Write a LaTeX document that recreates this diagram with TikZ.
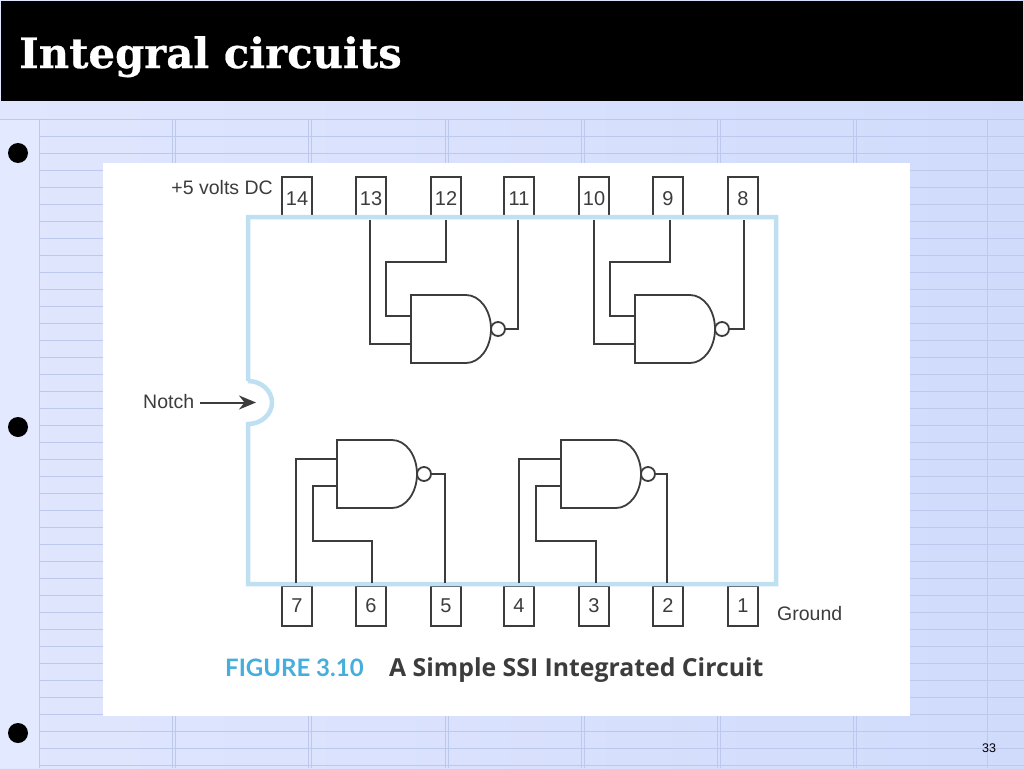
\documentclass[tikz,border=0pt]{standalone}
\usepackage{fontspec}
\setmainfont{Liberation Sans}
\newfontfamily\titlefont[FakeBold=0.6]{DejaVu Serif Bold}
\newfontfamily\capfont{Lato}
\newfontfamily\capboldfont{Open Sans}
\usetikzlibrary{arrows.meta,calc}
\definecolor{ink}{HTML}{3C3C3C}
\definecolor{chipblue}{HTML}{BFE0F2}
\definecolor{capblue}{HTML}{45AEDC}
\definecolor{gridline}{HTML}{BCC8EC}
\definecolor{bgleft}{HTML}{E0E6FD}
\definecolor{bgright}{HTML}{D0DBFC}
\definecolor{bgcol}{HTML}{E3E9FE}
\tikzset{
  x=1pt,y=-1pt,
  pinbox/.style={draw=ink,line width=2pt,minimum width=30pt,minimum height=40pt,inner sep=0pt},
  pinlabel/.style={text=ink,font=\fontsize{20}{22}\selectfont,inner sep=0pt},
  wire/.style={draw=ink,line width=2pt,line join=miter},
  gatebody/.style={draw=ink,line width=1.8pt,fill=white,line join=miter},
  bubble/.style={circle,draw=ink,line width=1.8pt,fill=white,minimum size=14pt,inner sep=0pt},
  lab/.style={text=ink,font=\fontsize{19.5}{22}\selectfont,inner sep=0pt},
  grid line/.style={draw=gridline,line width=0.9pt},
  bulletdot/.style={circle,fill=black,minimum size=20pt,inner sep=0pt}
}
% #1 name, #2 left x, #3 top y : gate 80 wide, 68 high
\newcommand{\nandgate}[3]{%
  \draw[gatebody] (#2,#3) -- ++(55,0) arc[start angle=-90,end angle=90,x radius=25,y radius=34] -- (#2,#3+68) -- cycle;
  \node[bubble] (#1b) at (#2+87,#3+34) {};
  \coordinate (#1u) at (#2,#3+21);
  \coordinate (#1l) at (#2,#3+49);
  \coordinate (#1d) at (#2,#3+18.5);
  \coordinate (#1e) at (#2,#3+46);
}
\begin{document}
\begin{tikzpicture}
\useasboundingbox (0,0) rectangle (1024,768);
% slide background
\shade[left color=bgleft,right color=bgright] (0,0) rectangle (1024,768);
\fill[bgcol] (0,119) rectangle (40,768);
\foreach \yy in {136,153,...,765} \draw[grid line] (40,\yy) -- (1024,\yy);
\draw[gridline,line width=1.6pt] (0,119.5) -- (1024,119.5);
\foreach \xx in {172,175,308,311,445,448,581,584,717,720,853,856,987}
  \draw[gridline,line width=0.8pt] (\xx,119) -- (\xx,768);
\draw[gridline,line width=1pt] (39.5,119) -- (39.5,768);
% title bar
\fill[black] (1,1) rectangle (1023,101);
\node[anchor=base west,text=white,inner sep=0pt,font=\titlefont\fontsize{41.8}{46}\selectfont] (title) at (19,68) {Integral circuits};
% bullets
\node[bulletdot] (b1) at (18,153) {};
\node[bulletdot] (b2) at (18,427) {};
\node[bulletdot] (b3) at (18,733) {};
\node[font=\fontsize{12.5}{14}\selectfont,text=black,inner sep=0pt] (num) at (989,748) {33};
% figure sheet
\fill[white] (103,163) rectangle (910,716);
% pins
\foreach \nm/\xx in {14/297,13/371,12/446,11/519,10/594,9/668,8/743}{
  \node[pinbox] (p\nm) at (\xx,197) {};
  \node[pinlabel] (t\nm) at (\xx,199) {\nm};}
\foreach \nm/\xx in {7/297,6/371,5/446,4/519,3/594,2/668,1/743}{
  \node[pinbox] (p\nm) at (\xx,606) {};
  \node[pinlabel] (t\nm) at (\xx,606) {\nm};}
% chip outline with notch
\draw[chipblue,line width=4.5pt,line join=miter]
  (248,381) -- (248,217) -- (776,217) -- (776,584) -- (248,584) -- (248,424)
  arc[start angle=90,end angle=-90,x radius=24,y radius=21.5];
% gates
\nandgate{ga}{411}{295}
\nandgate{gb}{635}{295}
\nandgate{gc}{337}{440}
\nandgate{gd}{561}{440}
% top wires
\draw[wire] ($(p12.south)+(0,2)$) |- (386,262) |- (gau);
\draw[wire] ($(p13.south)+(-1.5,2)$) |- (gal);
\draw[wire] ($(p11.south)+(-1,2)$) |- (gab.east);
\draw[wire] ($(p9.south)+(2,2)$) |- (610,262) |- (gbu);
\draw[wire] ($(p10.south)+(0,2)$) |- (gbl);
\draw[wire] ($(p8.south)+(1,2)$) |- (gbb.east);
% bottom wires
\draw[wire] ($(p7.north)+(-1,-2)$) |- (gcd);
\draw[wire] ($(p6.north)+(1,-2)$) |- (312.5,541) |- (gce);
\draw[wire] ($(p5.north)+(-1.5,-2)$) |- (gcb.east);
\draw[wire] ($(p4.north)+(0,-2)$) |- (gdd);
\draw[wire] ($(p3.north)+(2,-2)$) |- (536,541) |- (gde);
\draw[wire] ($(p2.north)+(-1,-2)$) |- (gdb.east);
% labels
\node[lab,anchor=east] (vcc) at (273,188) {+5 volts DC};
\node[lab,anchor=west] (gnd) at (777,613.5) {Ground};
\node[lab,anchor=west] (notch) at (143,401.5) {Notch};
\coordinate (notchtip) at (256,402.5);
\draw[ink,line width=2pt,-{Stealth[length=17pt,width=14pt]}] (200,402.5) -- (notchtip);
% caption
\node[anchor=base west,inner sep=0pt,text=capblue,font=\capfont\bfseries\fontsize{24}{26}\selectfont] (figno) at (225,676) {FIGURE 3.10};
\node[anchor=base west,inner sep=0pt,text=ink,font=\capboldfont\bfseries\fontsize{24.8}{26}\selectfont] (figcap) at (389,676) {A Simple SSI Integrated Circuit};
\end{tikzpicture}
\end{document}
